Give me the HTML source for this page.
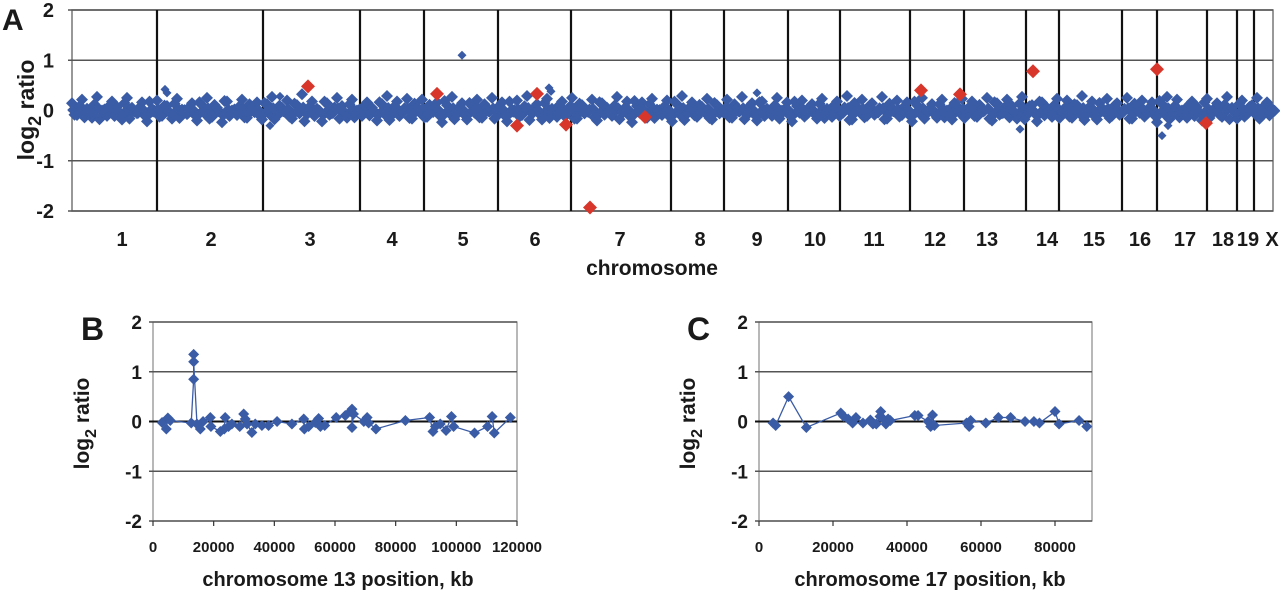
<!DOCTYPE html>
<html><head><meta charset="utf-8"><style>
body{margin:0;background:#fff;width:1280px;height:592px;overflow:hidden;font-family:"Liberation Sans",Arial,sans-serif;}
svg{position:absolute;left:0;top:0}
text{font-family:"Liberation Sans",Arial,sans-serif;font-weight:bold;fill:#1a1a1a}
</style></head><body>
<svg id="fig" width="1280" height="592" viewBox="0 0 1280 592"></svg>
<script>
// ---- Panel A data ----
const chromLabels=["1","2","3","4","5","6","7","8","9","10","11","12","13","14","15","16","17","18","19","X"];
const chromSizes=[85,106,97,64,74,73,100,53,64,52,70,54,62,33,63,35,50,30,17,19];
const chromLabelPos=[50,139,238,320,391,463,548,628,685,743,802,863,915,975,1022,1068,1113,1151,1176,1200];
const bandStep=5;
const bandValues=[8,-5,12,2,-8,15,0,-6,10,4,-10,14,3,-3,9,-12,2,11,-6,5,
-9,13,1,-4,8,-11,6,14,-7,3,-13,10,0,-5,12,-8,4,9,-10,7,
15,-6,3,11,-9,6,18,-4,10,2,-12,8,-3,14,5,-8,12,0,-6,9,
3,-11,7,16,-5,10,-2,13,-9,4,12,-7,0,9,-13,6,15,-4,8,-10,
5,12,-8,3,14,-6,9,-12,1,11,-5,16,-3,7,-10,13,2,-7,10,-4,
14,-9,6,0,12,-11,8,3,-6,15,-2,10,-13,5,9,-8,13,1,-5,11,
-12,7,16,-3,9,-7,4,13,-10,6,-1,12,-8,3,15,-5,8,-11,10,2,
-6,14,0,9,-12,5,11,-4,7,-9,13,2,-7,10,-3,16,-10,4,12,-6,
8,-2,15,-9,3,11,-5,9,-12,6,14,-1,7,-8,12,0,-10,5,13,-4,
10,-7,2,14,-11,8,-3,12,5,-9,15,-5,6,-12,9,3,-7,13,-2,11,
-8,6,16,-4,10,-10,3,13,-6,8,-1,14,-9,5,11,-3,9,-13,7,15,
-5,12,0,-8,10,4,-11,13,-2,8,-7,15,3,-9,11,-4,6,14,-6,9,2];
const blueOutIdx=[93,95,198,208,390,477,479,685,948,950,888,1090,1096];
const blueOutVal=[0.42,0.35,-0.30,0.28,1.10,0.45,0.38,0.35,-0.37,0.25,0.30,-0.50,-0.30];
const redIdx=[236,365,445,465,494,518,573,849,888,961,1085,1134];
const redVal=[0.48,0.33,-0.30,0.33,-0.28,-1.93,-0.13,0.40,0.32,0.78,0.82,-0.25];
const yTicks=[2,1,0,-1,-2];
// ---- Panel B data ----
const bPos=[3000,4400,4900,5700,12600,13400,13400,13400,14500,15600,16500,18900,19100,22200,23500,23800,24900,26000,28600,29900,30400,31000,32600,33700,35900,38100,40900,45800,49700,49900,51300,53500,54600,55200,56600,60400,63400,65100,65600,65600,66100,69500,70600,71100,73500,83200,91200,92300,93100,94700,96600,98400,99100,106000,110300,111800,112500,117800];
const bVal=[-0.02,-0.15,0.07,0.02,-0.03,0.85,1.35,1.2,-0.05,-0.15,0,0.08,-0.1,-0.2,-0.15,0.08,-0.1,-0.05,-0.1,0.15,0.05,-0.05,-0.22,-0.05,-0.08,-0.08,0,-0.05,0.05,-0.15,-0.1,-0.02,0.06,-0.1,-0.08,0.08,0.12,0.2,0.25,-0.12,0.15,0,0.08,-0.03,-0.15,0.02,0.08,-0.2,-0.1,-0.05,-0.18,0.1,-0.1,-0.23,-0.1,0.1,-0.23,0.08];
const bTicks=[0,20000,40000,60000,80000,100000,120000];
// ---- Panel C data ----
const cPos=[3800,4500,8000,12800,22100,22900,24100,25300,26200,28100,30100,30800,31700,32700,32900,33600,34300,34900,35500,42100,43000,45700,46400,46900,47400,56100,56800,57200,61300,64700,68000,71900,74300,75800,80000,81100,86500,88600];
const cVal=[-0.03,-0.08,0.5,-0.12,0.17,0.1,0.05,-0.03,0.08,-0.03,0.03,-0.05,-0.05,0.1,0.2,0.05,-0.05,0.05,0.02,0.12,0.12,0,-0.1,0.13,-0.08,-0.03,-0.1,0.02,-0.03,0.08,0.08,0,0,-0.03,0.2,-0.05,0.02,-0.1];
const cTicks=[0,20000,40000,60000,80000];

const NS="http://www.w3.org/2000/svg";
const svg=document.getElementById('fig');
function mk(tag,attrs,parent){const e=document.createElementNS(NS,tag);for(const k in attrs)e.setAttribute(k,attrs[k]);(parent||svg).appendChild(e);return e;}
function diamond(cx,cy,r,fill,parent){return mk('path',{d:`M${cx} ${cy-r}L${cx+r} ${cy}L${cx} ${cy+r}L${cx-r} ${cy}Z`,fill:fill},parent);}
const BLUE='#3a5ca6',RED='#d8362a';

// ---------- Panel A ----------
const A={l:72,r:1273,t:10,b:211};
const total=chromSizes.reduce((a,b)=>a+b,0);
const ax=i=>A.l+i/total*(A.r-A.l);
const ay=v=>A.t+(2-v)/4*(A.b-A.t);
const gA=mk('g',{});


const pl=mk('text',{x:2,y:30,'font-size':30},gA);pl.textContent='A';

mk('rect',{x:A.l,y:A.t,width:A.r-A.l,height:A.b-A.t,fill:'none',stroke:'#777','stroke-width':1.5},gA);
yTicks.forEach(v=>{
  const ln=mk('line',{x1:A.l-4,x2:A.r,y1:ay(v),y2:ay(v),stroke:'#555','stroke-width':1.5},gA);
  
  const t=mk('text',{x:A.l-18,y:ay(v)+7,'font-size':20,'text-anchor':'end'},gA);t.textContent=v;
  
});
let cum=0;
chromSizes.forEach((s,k)=>{
  const lab=mk('text',{x:A.l+chromLabelPos[k],y:246,'font-size':20,'text-anchor':'middle'},gA);lab.textContent=chromLabels[k];
  
  cum+=s;
  if(k<chromSizes.length-1){
    const b=mk('line',{x1:ax(cum),x2:ax(cum),y1:A.t,y2:A.b,stroke:'#111','stroke-width':2.2},gA);
    
  }
});
const yt=mk('text',{transform:'translate(34,110) rotate(-90)','font-size':23,'text-anchor':'middle'},gA);
yt.innerHTML='log<tspan dy="7" font-size="18">2</tspan><tspan dy="-7"> ratio</tspan>';

const xt=mk('text',{x:652,y:275,'font-size':21,'text-anchor':'middle'},gA);xt.textContent='chromosome';

bandValues.forEach((v,i)=>{
  const d=diamond(ax(i*bandStep),ay(v/100*1.8),6,BLUE,gA);
  
  const d2=diamond(ax(i*bandStep+2.5),ay(-v/100*1.3+0.02),6,BLUE,gA);
  
  const d3=diamond(ax(i*bandStep+1.2),ay(v/100*0.5-0.03),6,BLUE,gA);
  
});
blueOutIdx.forEach((x,i)=>{
  const d=diamond(ax(x),ay(blueOutVal[i]),4.5,BLUE,gA);
  
});
redIdx.forEach((x,i)=>{
  const d=diamond(ax(x),ay(redVal[i]),7,RED,gA);
  
});

// ---------- Panels B & C ----------
function panel(name,letter,P,xmax,ticks,pos,val,title,titleX){
  const g=mk('g',{});
  
  
  const sx=v=>P.l+v/xmax*(P.r-P.l);
  const sy=v=>P.t+(2-v)/4*(P.b-P.t);
  const L=mk('text',{x:P.l-72,y:P.t+18,'font-size':32},g);L.textContent=letter;
  
  mk('rect',{x:P.l,y:P.t,width:P.r-P.l,height:P.b-P.t,fill:'none',stroke:'#888','stroke-width':1.2},g);
  yTicks.forEach(v=>{
    const ln=mk('line',{x1:P.l-4,x2:P.r,y1:sy(v),y2:sy(v),stroke:v===0?'#111':'#555','stroke-width':v===0?2:1.5},g);
    
    const t=mk('text',{x:P.l-11,y:sy(v)+7,'font-size':19,'text-anchor':'end'},g);t.textContent=v;
    
  });
  ticks.forEach(v=>{
    mk('line',{x1:sx(v),x2:sx(v),y1:P.b,y2:P.b+5,stroke:'#333','stroke-width':1.2},g);
    const t=mk('text',{x:sx(v),y:P.b+31,'font-size':15,'text-anchor':'middle'},g);t.textContent=v;
    
  });
  const yt=mk('text',{transform:`translate(${P.l-64},${sy(0)+2}) rotate(-90)`,'font-size':21,'text-anchor':'middle'},g);
  yt.innerHTML='log<tspan dy="7" font-size="16">2</tspan><tspan dy="-7"> ratio</tspan>';
  
  const xt=mk('text',{x:titleX,y:586,'font-size':20,'text-anchor':'middle'},g);xt.textContent=title;
  
  const line=mk('polyline',{points:pos.map((p,i)=>sx(p)+','+sy(val[i])).join(' '),fill:'none',stroke:BLUE,'stroke-width':1.3},g);
  
  pos.forEach((p,i)=>{
    const d=diamond(sx(p),sy(val[i]),5.5,BLUE,g);
    
  });
}
panel('panel-b','B',{l:153,r:517,t:322,b:521},120000,bTicks,bPos,bVal,'chromosome 13 position, kb',338);
panel('panel-c','C',{l:759,r:1092,t:322,b:521},90000,cTicks,cPos,cVal,'chromosome 17 position, kb',930);
</script>
</body></html>
